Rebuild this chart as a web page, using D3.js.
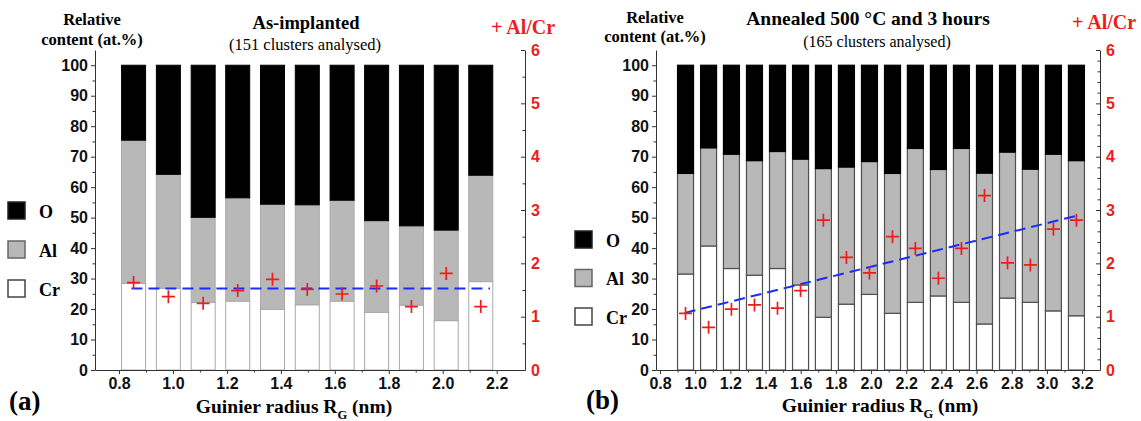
<!DOCTYPE html>
<html><head><meta charset="utf-8">
<script src="https://cdn.jsdelivr.net/npm/d3@7"></script>
<style>body{margin:0;background:#fff}</style>
</head><body>
<svg id="c" width="1141" height="421"></svg>
<script>
// ---------- Panel (a): As-implanted ----------
const radiusA = [0.854, 0.983, 1.112, 1.240, 1.369, 1.498, 1.627, 1.755, 1.884, 2.013, 2.141];
const crA     = [28.4, 26.8, 22.2, 22.6, 19.9, 21.4, 22.6, 18.9, 21.3, 16.2, 29.0];
const alA     = [47.0, 37.4, 27.9, 33.9, 34.5, 32.8, 33.1, 30.1, 26.0, 29.7, 34.9];
const oA      = [24.6, 35.8, 49.9, 43.5, 45.6, 45.8, 44.3, 51.0, 52.7, 54.1, 36.1];
const ratioA  = [1.64, 1.375, 1.25, 1.49, 1.70, 1.51, 1.425, 1.575, 1.19, 1.81, 1.19];
const trendAX = [0.846, 2.175];
const trendAY = [1.53, 1.53];
const xTicksA = [0.8, 1.0, 1.2, 1.4, 1.6, 1.8, 2.0, 2.2];
const xMinorA = [0.9, 1.1, 1.3, 1.5, 1.7, 1.9, 2.1];

// ---------- Panel (b): Annealed 500 °C, 3 h ----------
const radiusB = [0.945, 1.076, 1.206, 1.337, 1.468, 1.599, 1.729, 1.860, 1.991, 2.122, 2.252, 2.383, 2.514, 2.645, 2.776, 2.906, 3.037, 3.168];
const crB     = [31.5, 40.7, 33.3, 31.1, 33.3, 27.9, 17.3, 21.6, 24.8, 18.6, 22.2, 24.3, 22.2, 15.1, 23.6, 22.2, 19.4, 17.8];
const alB     = [33.0, 32.2, 37.5, 37.6, 38.4, 41.3, 48.8, 45.0, 43.6, 45.9, 50.5, 41.5, 50.5, 49.5, 47.9, 43.7, 51.4, 50.9];
const oB      = [35.5, 27.1, 29.2, 31.3, 28.3, 30.8, 33.9, 33.4, 31.6, 35.5, 27.3, 34.2, 27.3, 35.4, 28.5, 34.1, 29.2, 31.3];
const ratioB  = [1.06, 0.80, 1.14, 1.22, 1.16, 1.49, 2.81, 2.11, 1.82, 2.50, 2.28, 1.72, 2.28, 3.27, 2.01, 1.97, 2.64, 2.81];
const trendBX = [0.94, 3.178];
const trendBY = [1.07, 2.90];
const xTicksB = [0.8, 1.0, 1.2, 1.4, 1.6, 1.8, 2.0, 2.2, 2.4, 2.6, 2.8, 3.0, 3.2];
const xMinorB = [0.9, 1.1, 1.3, 1.5, 1.7, 1.9, 2.1, 2.3, 2.5, 2.7, 2.9, 3.1];

// ---------- Shared axis ticks ----------
const yTicks = [0, 10, 20, 30, 40, 50, 60, 70, 80, 90, 100];
const yMinor = [5, 15, 25, 35, 45, 55, 65, 75, 85, 95];
const rTicks = [0, 1, 2, 3, 4, 5, 6];
const rMinorA = [0.5, 1.5, 2.5, 3.5, 4.5, 5.5];
const rMinorB = [0.2,0.4,0.6,0.8,1.2,1.4,1.6,1.8,2.2,2.4,2.6,2.8,3.2,3.4,3.6,3.8,4.2,4.4,4.6,4.8,5.2,5.4,5.6,5.8];
const legendKeys = ["O", "Al", "Cr"];

const RED = "#ee1c1c", BLUE = "#1a2cff", GRAY = "#b8b8b8", AX = "#333";
const SANS = "'Liberation Sans', Arial, sans-serif";
const SERIF = "'Liberation Serif', 'Times New Roman', serif";

const svg = d3.select("#c");
svg.append("rect").attr("width", 1141).attr("height", 421).attr("fill", "#fff");

function styleAxis(g, color) {
  g.selectAll("path.domain").attr("stroke", AX).attr("stroke-width", 1);
  g.selectAll(".tick line").attr("stroke", AX).attr("stroke-width", 1);
  g.selectAll(".tick text").attr("fill", color).attr("font-family", SANS)
    .attr("font-weight", "bold").attr("font-size", 16);
}

function drawPanel(p) {
  const x = d3.scaleLinear().domain(p.xDomain).range(p.xRange);
  const yL = d3.scaleLinear().domain([0, 105]).range([370, 50]);
  const yR = d3.scaleLinear().domain([0, 6]).range([370, 50]);
  const g = svg.append("g");

  // stacked bars
  const rows = p.radius.map((r, i) => ({r, Cr: p.cr[i], Al: p.al[i], O: p.o[i]}));
  const stack = d3.stack().keys(["Cr", "Al", "O"])(rows);
  const fills = {Cr: "#fff", Al: GRAY, O: "#000"};
  stack.forEach(layer => {
    g.append("g").selectAll("rect").data(layer).join("rect")
      .attr("x", d => x(d.data.r - p.barW / 2))
      .attr("width", d => x(d.data.r + p.barW / 2) - x(d.data.r - p.barW / 2))
      .attr("y", d => yL(d[1]))
      .attr("height", d => yL(d[0]) - yL(d[1]))
      .attr("fill", fills[layer.key])
      .attr("stroke", layer.key === "O" ? "#000" : p.barStroke)
      .attr("stroke-width", p.barStrokeW);
  });

  // axes
  const gl = g.append("g").attr("transform", `translate(${p.xRange[0]},0)`)
    .call(d3.axisLeft(yL).tickValues(yTicks).tickSize(4).tickSizeOuter(0).tickPadding(3));
  styleAxis(gl, "#111");
  g.append("g").attr("transform", `translate(${p.xRange[0]},0)`)
    .call(d3.axisLeft(yL).tickValues(yMinor).tickSize(2.5).tickFormat(""))
    .call(s => { s.select("path.domain").remove(); s.selectAll("line").attr("stroke", AX); });

  const gr = g.append("g").attr("transform", `translate(${p.xRange[1]},0)`)
    .call(d3.axisRight(yR).tickValues(rTicks).tickSize(-4).tickSizeOuter(0).tickPadding(6).tickFormat(d3.format("d")));
  styleAxis(gr, RED);
  g.append("g").attr("transform", `translate(${p.xRange[1]},0)`)
    .call(d3.axisRight(yR).tickValues(p.rMinor).tickSize(-2.5).tickFormat(""))
    .call(s => { s.select("path.domain").remove(); s.selectAll("line").attr("stroke", AX); });

  const gx = g.append("g").attr("transform", "translate(0,370)")
    .call(d3.axisBottom(x).tickValues(p.xTicks).tickSize(4).tickSizeOuter(0).tickPadding(4).tickFormat(d3.format(".1f")));
  styleAxis(gx, "#111");
  g.append("g").attr("transform", "translate(0,370)")
    .call(d3.axisBottom(x).tickValues(p.xMinor).tickSize(2.5).tickFormat(""))
    .call(s => { s.select("path.domain").remove(); s.selectAll("line").attr("stroke", AX); });

  // trend line
  const line = d3.line().x(d => x(d[0])).y(d => yR(d[1]));
  g.append("path").datum(p.trendX.map((v, i) => [v, p.trendY[i]]))
    .attr("d", line).attr("fill", "none").attr("stroke", BLUE)
    .attr("stroke-width", 2).attr("stroke-dasharray", "11,6");

  // Al/Cr markers
  g.append("g").selectAll("path").data(p.radius.map((r, i) => [r, p.ratio[i]])).join("path")
    .attr("transform", d => `translate(${x(d[0])},${yR(d[1])})`)
    .attr("d", "M-6.5,0H6.5M0,-6.5V6.5")
    .attr("stroke", RED).attr("stroke-width", 1.7).attr("fill", "none");

  // texts
  const t = (xx, yy, txt, size, weight, fam, color, anchor) =>
    g.append("text").attr("x", xx).attr("y", yy).text(txt)
      .attr("font-size", size).attr("font-weight", weight).attr("font-family", fam)
      .attr("fill", color).attr("text-anchor", anchor || "middle");
  t(p.title[0], p.title[1], p.title[2], p.title[3], "bold", SERIF, "#000");
  t(p.sub[0], p.sub[1], p.sub[2], p.sub[3], "normal", SERIF, "#000");
  t(p.rel[0], p.rel[1], "Relative", 16.5, "bold", SERIF, "#000");
  t(p.rel[0], p.rel[2], "content (at.%)", 16.5, "bold", SERIF, "#000");
  t(p.alcr[0], p.alcr[1], "+ Al/Cr", 20, "bold", SERIF, RED);

  const xl = g.append("text").attr("x", p.xlab[0]).attr("y", p.xlab[1])
    .attr("font-size", 19.5).attr("font-weight", "bold").attr("font-family", SERIF)
    .attr("text-anchor", "middle");
  xl.append("tspan").text("Guinier radius R");
  xl.append("tspan").text("G").attr("font-size", 12.5).attr("dy", 6);
  xl.append("tspan").text(" (nm)").attr("dy", -6);

  t(p.letter[0], p.letter[1], p.letter[2], 27, "bold", SERIF, "#000", "start");

  // legend
  const lf = {O: "#000", Al: GRAY, Cr: "#fff"};
  const ls = {O: "#222", Al: "#666", Cr: "#444"};
  const lg = g.append("g").selectAll("g").data(legendKeys).join("g")
    .attr("transform", (d, i) => `translate(${p.leg[0]},${p.leg[1] + i * p.leg[2]})`);
  lg.append("rect").attr("x", 0).attr("y", 0).attr("width", 17).attr("height", 17)
    .attr("fill", d => lf[d]).attr("stroke", d => ls[d]).attr("stroke-width", 1.5);
  lg.append("text").attr("x", 31).attr("y", 15.5).text(d => d)
    .attr("font-size", 18).attr("font-weight", "bold").attr("font-family", SERIF);
}

drawPanel({
  xDomain: [0.711, 2.305], xRange: [95, 525],
  radius: radiusA, cr: crA, al: alA, o: oA, ratio: ratioA,
  trendX: trendAX, trendY: trendAY, xTicks: xTicksA, xMinor: xMinorA, rMinor: rMinorA,
  barW: 0.089, barStroke: "#aaa", barStrokeW: 1,
  title: [306, 29, "As-implanted", 18.5], sub: [305, 50, "(151 clusters analysed)", 16.5],
  rel: [92, 25, 45], alcr: [523, 34], xlab: [294, 413], letter: [9, 410, "(a)"],
  leg: [8, 202, 39]
});

drawPanel({
  xDomain: [0.777, 3.302], xRange: [656, 1100],
  radius: radiusB, cr: crB, al: alB, o: oB, ratio: ratioB,
  trendX: trendBX, trendY: trendBY, xTicks: xTicksB, xMinor: xMinorB, rMinor: rMinorB,
  barW: 0.091, barStroke: "#505050", barStrokeW: 1.2,
  title: [868, 25, "Annealed 500 °C and 3 hours", 19.5], sub: [877, 47, "(165 clusters analysed)", 16],
  rel: [655, 23, 42], alcr: [1104, 29], xlab: [880, 412], letter: [586, 409, "(b)"],
  leg: [575, 231, 38.5]
});
</script>
</body></html>
